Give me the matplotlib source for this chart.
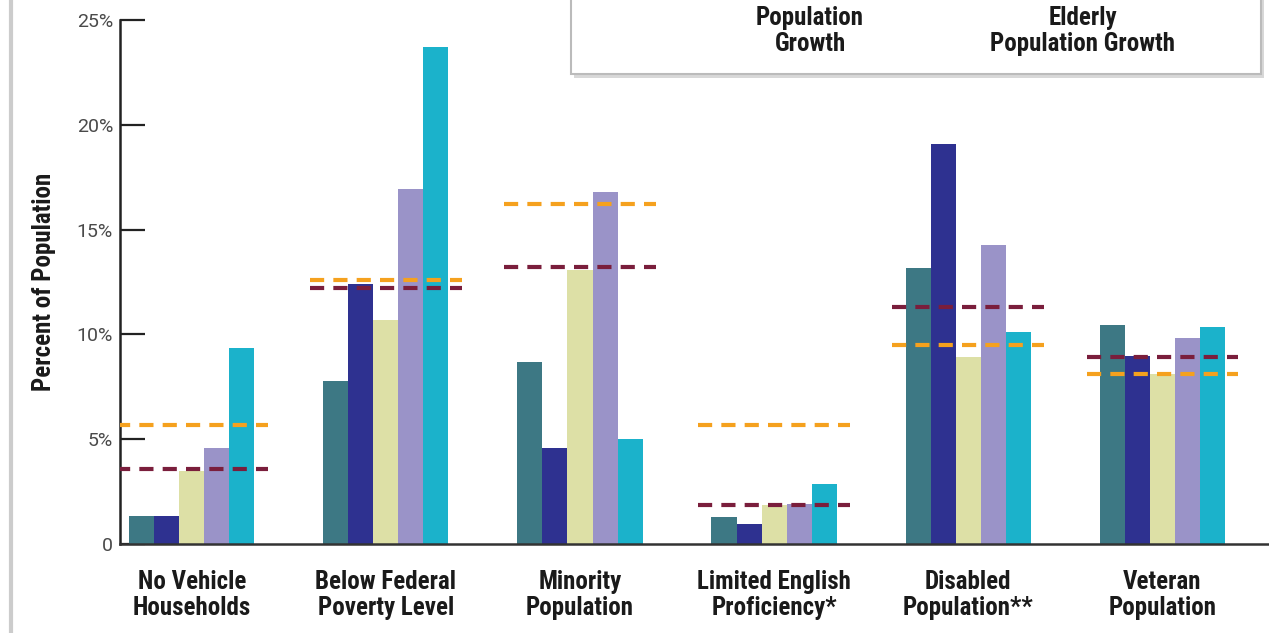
import matplotlib.pyplot as plt
from matplotlib.patches import Rectangle
from matplotlib import font_manager
import numpy as np

# ---- data -------------------------------------------------------------------
categories = ['No Vehicle\nHouseholds', 'Below Federal\nPoverty Level', 'Minority\nPopulation',
              'Limited English\nProficiency*', 'Disabled\nPopulation**', 'Veteran\nPopulation']
series_a = [1.35, 7.8, 8.7, 1.3, 13.15, 10.45]
series_b = [1.35, 12.4, 4.6, 0.95, 19.1, 8.95]
series_c = [3.5, 10.7, 13.05, 1.85, 8.9, 8.1]
series_d = [4.6, 16.95, 16.8, 1.9, 14.25, 9.85]
series_e = [9.35, 23.7, 5.0, 2.85, 10.1, 10.35]
pop_growth = [5.67, 12.6, 16.2, 5.67, 9.5, 8.1]
elderly_growth = [3.6, 12.2, 13.2, 1.88, 11.3, 8.9]
legend_labels = ['Population\nGrowth', 'Elderly\nPopulation Growth']
yticks = [0, 5, 10, 15, 20, 25]
ytick_labels = ['0', '5%', '10%', '15%', '20%', '25%']

bar_colors = ['#3d7884', '#2e3190', '#dde0a6', '#9a93c8', '#1bb2cb']
line_colors = ['#f5a11e', '#7a1e3c']

names = {f.name for f in font_manager.fontManager.ttflist}
cond = 'Roboto Condensed' if 'Roboto Condensed' in names else 'DejaVu Sans'
reg = 'Roboto' if 'Roboto' in names else 'DejaVu Sans'
plt.rcParams['font.family'] = [cond, 'DejaVu Sans']

W, H = 1269, 633
fig = plt.figure(figsize=(W / 100, H / 100), dpi=100)
ax = fig.add_axes([120 / W, 1 - 544 / H, 1 - 120 / W, 524 / H])

x = np.arange(len(categories))
width = 0.129
for i, vals in enumerate([series_a, series_b, series_c, series_d, series_e]):
    ax.bar(x + (i - 2) * width, vals, width, color=bar_colors[i], zorder=2)

for vals, col in zip([pop_growth, elderly_growth], line_colors):
    for xi, v in zip(x, vals):
        ax.plot([xi - 0.39, xi + 0.39], [v, v], color=col, lw=3.0,
                dashes=(3.4, 2.2), zorder=3, solid_capstyle='butt')

ax.set_xlim(-0.37, 5.55)
ax.set_ylim(0, 25)
ax.set_yticks(yticks)
ax.set_yticklabels(ytick_labels, fontsize=14, color='#4a4a4a', family=[reg, 'DejaVu Sans'])
ax.tick_params(axis='y', direction='in', length=18, width=1.6, color='#222222', pad=5)
ax.set_xticks(x)
ax.set_xticklabels(categories, fontsize=18, fontweight='bold', color='#1a1a1a', linespacing=1.08)
ax.tick_params(axis='x', length=0, pad=19)
for s in ['top', 'right']:
    ax.spines[s].set_visible(False)
ax.spines['left'].set_linewidth(1.8)
ax.spines['bottom'].set_linewidth(1.8)
ax.spines['left'].set_color('#222222')
ax.spines['bottom'].set_color('#333333')
ax.set_ylabel('Percent of Population', fontsize=18, fontweight='bold', labelpad=15, color='#1a1a1a')

# left border line
fig.add_artist(plt.Line2D([11 / W, 11 / W], [0, 1], color='#cccccc', lw=3,
                          transform=fig.transFigure))

# legend box (top part cropped in the original)
fig.add_artist(Rectangle((574 / W, 1 - 78 / H), 690 / W, 90 / H, transform=fig.transFigure,
                         facecolor='#d8d8d8', edgecolor='none', zorder=5))
fig.add_artist(Rectangle((571 / W, 1 - 74 / H), 690 / W, 90 / H, transform=fig.transFigure,
                         facecolor='white', edgecolor='#bbbbbb', lw=1.5, zorder=6))
for lbl, xp in zip(legend_labels, [810, 1083]):
    fig.text(xp / W, 1 - 31 / H, lbl, ha='center', va='center', fontsize=18,
             fontweight='bold', color='#1a1a1a', linespacing=1.08, zorder=7)

fig.savefig('out.png', dpi=100)
